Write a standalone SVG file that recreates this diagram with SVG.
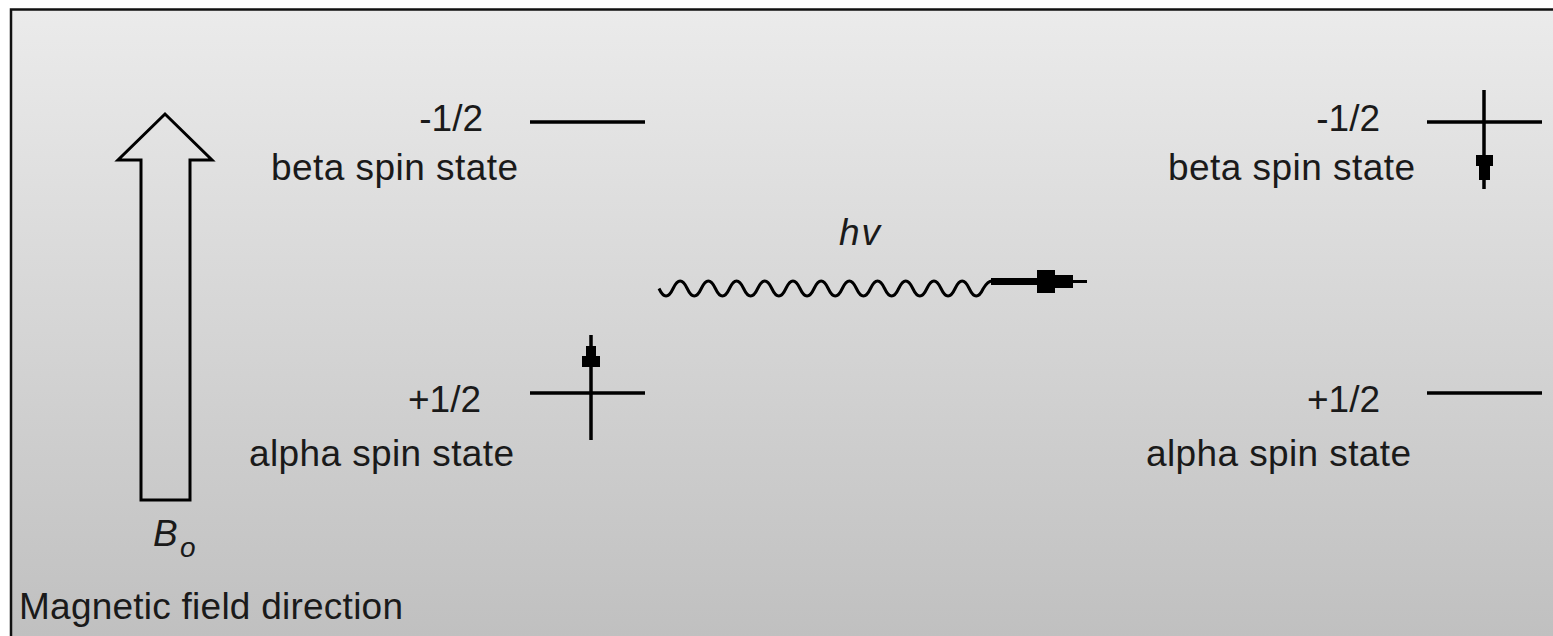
<svg xmlns="http://www.w3.org/2000/svg" width="1553" height="636" viewBox="0 0 1553 636">
  <style>
    .t { font-family: "Liberation Sans", Arial, sans-serif; font-size: 37px; fill: #1a1a1a; }
    .i { font-style: italic; }
    .ln { stroke: #000; stroke-width: 3.5; fill: none; }
    .ah { fill: #000; stroke: none; }
  </style>
  <defs>
    <linearGradient id="bg" x1="0" y1="10" x2="0" y2="636" gradientUnits="userSpaceOnUse">
      <stop offset="0" stop-color="#ebebeb"/>
      <stop offset="1" stop-color="#c0c0c0"/>
    </linearGradient>
  </defs>
  <rect x="0" y="0" width="1553" height="636" fill="#ffffff"/>
  <g id="frame">
    <rect x="11" y="9.5" width="1600" height="700" fill="url(#bg)" stroke="#111" stroke-width="2.5"/>
  </g>

  <g id="field-arrow">
    <polygon points="141,500 141,160 118,160 165,114 212,160 190,160 190,500" fill="none" stroke="#000" stroke-width="3" stroke-linejoin="miter"/>
    <text class="t i" x="153" y="546">B</text>
    <text class="t i" x="180" y="557" style="font-size:28px">o</text>
    <text class="t" x="19" y="619" textLength="384" lengthAdjust="spacing">Magnetic field direction</text>
  </g>

  <g id="left-beta">
    <text class="t" x="483" y="131" text-anchor="end">-1/2</text>
    <text class="t" x="271" y="180" textLength="247" lengthAdjust="spacing">beta spin state</text>
    <line class="ln" x1="530" y1="122" x2="645" y2="122"/>
  </g>

  <g id="left-alpha">
    <text class="t" x="481" y="412" text-anchor="end">+1/2</text>
    <text class="t" x="249" y="466" textLength="265" lengthAdjust="spacing">alpha spin state</text>
    <line class="ln" x1="530" y1="393" x2="645" y2="393"/>
    <line class="ln" x1="591" y1="335" x2="591" y2="440"/>
    <path class="ah" d="M586,346 H596 V356 H600 V367 H582 V356 H586 Z"/>
  </g>

  <g id="right-beta">
    <text class="t" x="1380" y="131" text-anchor="end">-1/2</text>
    <text class="t" x="1168" y="180" textLength="247" lengthAdjust="spacing">beta spin state</text>
    <line class="ln" x1="1427" y1="122" x2="1542" y2="122"/>
    <line class="ln" x1="1484" y1="90" x2="1484" y2="189"/>
    <path class="ah" d="M1476,155 H1493 V166 H1490 V180 H1479 V166 H1476 Z"/>
  </g>

  <g id="right-alpha">
    <text class="t" x="1380" y="412" text-anchor="end">+1/2</text>
    <text class="t" x="1146" y="466" textLength="265" lengthAdjust="spacing">alpha spin state</text>
    <line class="ln" x1="1427" y1="393" x2="1542" y2="393"/>
  </g>

  <g id="connectors">
    <g id="photon">
      <text class="t i" x="839" y="245" letter-spacing="2">hv</text>
      <path d="M659,288.5 Q666.05,303.5 673.1,288.5 T687.2,288.5 T701.3,288.5 T715.4,288.5 T729.5,288.5 T743.6,288.5 T757.7,288.5 T771.8,288.5 T785.9,288.5 T800,288.5 T814.1,288.5 T828.2,288.5 T842.3,288.5 T856.4,288.5 T870.5,288.5 T884.6,288.5 T898.7,288.5 T912.8,288.5 T926.9,288.5 T941,288.5 T955.1,288.5 T969.2,288.5 T983.3,288.5 Q987.8,281 992,281" fill="none" stroke="#000" stroke-width="3"/>
      <rect x="991" y="278" width="47" height="7" fill="#000"/>
      <path class="ah" d="M1037,270 H1055 V275 H1073 V288 H1055 V293 H1037 Z"/>
      <line x1="1072" y1="281.5" x2="1087" y2="281.5" stroke="#000" stroke-width="3"/>
    </g>
  </g>
</svg>
